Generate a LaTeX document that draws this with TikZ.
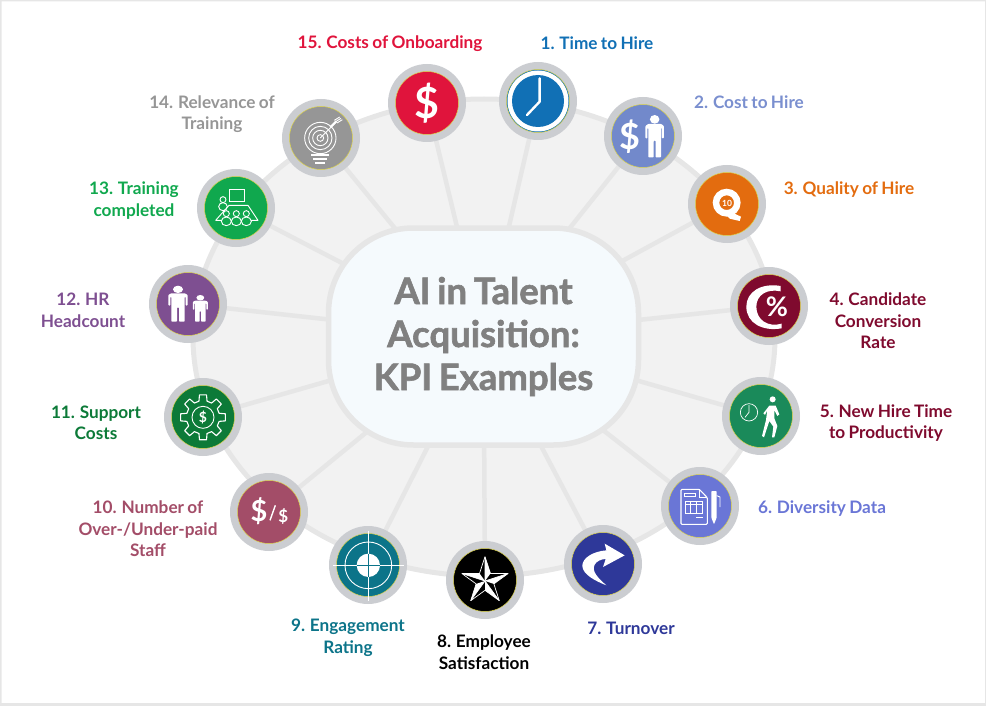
\documentclass[tikz,border=0pt]{standalone}
\usepackage{fontspec}
\setmainfont{Lato}[WordSpace=0.8]
\newfontfamily\titlefont{Lato}[WordSpace=0.75,BoldFeatures={FakeBold=1.6}]
\pgfdeclarelayer{bg}
\pgfsetlayers{bg,main}
\definecolor{framegray}{HTML}{E6E6E6}
\definecolor{diskfill}{HTML}{F2F2F2}
\definecolor{hubfill}{HTML}{F5FAFD}
\definecolor{ringgray}{HTML}{CBCDD1}
\definecolor{thinedge}{HTML}{DCD34A}
\definecolor{titlegray}{HTML}{808080}
\definecolor{cA}{HTML}{1170B5}
\definecolor{cB}{HTML}{7289CB}
\definecolor{cBt}{HTML}{7A8FCF}
\definecolor{cC}{HTML}{E36C0F}
\definecolor{cD}{HTML}{7F0A2E}
\definecolor{cE}{HTML}{1A8A5A}
\definecolor{cF}{HTML}{6A76D6}
\definecolor{cG}{HTML}{2E3899}
\definecolor{cH}{HTML}{000000}
\definecolor{cI}{HTML}{0C7489}
\definecolor{cJ}{HTML}{A34D68}
\definecolor{cK}{HTML}{0C7A38}
\definecolor{cL}{HTML}{7E4F91}
\definecolor{cM}{HTML}{10A84E}
\definecolor{cN}{HTML}{969696}
\definecolor{cO}{HTML}{E0143C}
\tikzset{
  kpiring/.style={circle,fill=ringgray,inner sep=0pt,minimum size=78pt},
  kpidisc/.style={circle,draw=thinedge,line width=.5pt,inner sep=0pt,minimum size=63pt},
  spoke/.style={draw=framegray,line width=4.5pt},
  kpilabel/.style={font=\bfseries\fontsize{17.2}{21.5}\selectfont,align=center,inner sep=0pt},
  glyph/.style={text=white,font=\bfseries,inner sep=0pt},
  thinw/.style={draw=white,line width=.9pt},
  zm/.style n args={3}{shift={(#1.center)},scale=0.33333,shift={(-#2,-#3)}}
}
\newcommand\kpi[4]{\node[kpiring] (#1) at (#2,#3) {};\node[kpidisc,fill=#4] (#1d) at (#1) {};}
\newcommand\kpiperson[4]{\begin{scope}[shift={(#1,#2)},xscale=#3,yscale=#4]
  \fill[white,rounded corners=.7pt] (-21,0) -- (21,0) -- (29,6) -- (29,43) -- (23,43) -- (23,12) -- (20,12) -- (20,100) -- (3,100) -- (3,50) -- (-3,50) -- (-3,100) -- (-20,100) -- (-20,12) -- (-23,12) -- (-23,43) -- (-29,43) -- (-29,6) -- cycle;
  \fill[white] (0,-14) ellipse [x radius=15,y radius=13];
\end{scope}}
\begin{document}
\begin{tikzpicture}[x=1pt,y=-1pt]
\useasboundingbox (0,0) rectangle (986,706);
\fill[framegray,even odd rule] (0,0) rectangle (986,706) (1.5,1.5) rectangle (985,703);
% hub and item nodes
\node[draw=framegray,fill=hubfill,line width=5.5pt,rounded corners=85pt,minimum width=310pt,minimum height=217pt,inner sep=0pt,
  font=\titlefont\bfseries\fontsize{36.5}{43}\selectfont,text=titlegray,align=center] (hub) at (483.5,336.5) {AI in Talent\\Acquisition:\\KPI Examples};
\kpi{nA}{538}{101}{cA}
\kpi{nB}{643}{136}{cB}
\kpi{nC}{727}{204}{cC}
\kpi{nD}{769}{306}{cD}
\kpi{nE}{761}{416}{cE}
\kpi{nF}{700}{506}{cF}
\kpi{nG}{603}{564}{cG}
\kpi{nH}{485}{580}{cH}
\kpi{nI}{368}{565}{cI}
\kpi{nJ}{269}{512}{cJ}
\kpi{nK}{203}{417}{cK}
\kpi{nL}{188}{304}{cL}
\kpi{nM}{236}{208}{cM}
\kpi{nN}{321}{138}{cN}
\kpi{nO}{427}{103}{cO}
\begin{pgfonlayer}{bg}
  \draw[framegray,fill=diskfill,line width=5pt] (484,337.5) ellipse [x radius=291,y radius=238.5];
  \foreach \n in {nA,nB,nC,nD,nE,nF,nG,nH,nI,nJ,nK,nL,nM,nN,nO}
    \draw[spoke] (hub.center) -- (\n.center);
\end{pgfonlayer}
% labels
\node[kpilabel,text=cO] (lO) at (390,43.5) {15. Costs of Onboarding};
\node[kpilabel,text=cA] (lA) at (597,43.5) {1. Time to Hire};
\node[kpilabel,text=cBt] (lB) at (749,102.5) {2. Cost to Hire};
\node[kpilabel,text=cC] (lC) at (849,189.5) {3. Quality of Hire};
\node[kpilabel,text=cD] (lD) at (878,321) {4. Candidate\\Conversion\\Rate};
\node[kpilabel,text=cD] (lE) at (886,423) {5. New Hire Time\\to Productivity};
\node[kpilabel,text=cF] (lF) at (822,508.5) {6. Diversity Data};
\node[kpilabel,text=cG] (lG) at (631,628.5) {7. Turnover};
\node[kpilabel,text=cH] (lH) at (484,652) {8. Employee\\Satisfaction};
\node[kpilabel,text=cI] (lI) at (348,638) {9. Engagement\\Rating};
\node[kpilabel,text=cJ] (lJ) at (148,529) {10. Number of\\Over-/Under-paid\\Staff};
\node[kpilabel,text=cK] (lK) at (96,423) {11. Support\\Costs};
\node[kpilabel,text=cL] (lL) at (83,310.5) {12. HR\\Headcount};
\node[kpilabel,text=cM] (lM) at (134,200.5) {13. Training\\completed};
\node[kpilabel,text=cN] (lN) at (212,114) {14. Relevance of\\Training};
% 15 dollar
\node[glyph,font=\bfseries\fontsize{43}{43}\selectfont] (gO) at (nO) {\$};
% 1 clock
\fill[white] (nA) circle (30.5);
\fill[cA] (nA) circle (26);
\begin{scope}[zm={nA}{475}{153}]
  \draw[white,line width=2.4pt,line cap=round,line join=round] (480,85) -- (480,155) -- (442,195);
\end{scope}
% 2 dollar and person
\begin{scope}[zm={nB}{790}{258}]
  \node[glyph,font=\bfseries\fontsize{36}{36}\selectfont] (gB) at (750,260) {\$};
  \kpiperson{825}{222}{0.95}{1}
\end{scope}
% 3 Q10
\begin{scope}[zm={nC}{142}{132}]
  \draw[white,line width=6.5pt] (141,128) circle (32);
  \fill[white] (132,158) -- (158,158) -- (184,170) -- (180,183) -- (150,176) -- cycle;
  \node[glyph,font=\bfseries\fontsize{8.5}{9}\selectfont] (gC) at (142,130) {10};
\end{scope}
% 4 C%
\begin{scope}[zm={nD}{268}{438}]
  \fill[white] (303,378) .. controls (245,368) and (200,395) .. (200,440) .. controls (200,490) and (250,515) .. (306,505) -- (306,491) .. controls (265,503) and (230,480) .. (230,440) .. controls (230,405) and (262,385) .. (303,394) -- cycle;
  \node[glyph,font=\bfseries\fontsize{27}{27}\selectfont] (gD) at (292,441) {\%};
\end{scope}
% 5 clock and walker
\begin{scope}[zm={nE}{243}{768}]
  \draw[white,line width=.7pt] (207,757) circle (26);
  \draw[white,line width=.7pt] (207,735) -- (207,757) -- (195,772);
  \fill[white] (278,718) circle (9);
  \fill[white] (268,737) -- (287,737) -- (298,763) -- (292,768) -- (283,750) -- (283,775) -- (292,798) -- (283,832) -- (276,832) -- (280,800) -- (268,783) -- (252,832) -- (246,828) -- (258,780) -- (262,750) -- (255,765) -- (250,760) -- cycle;
\end{scope}
% 6 document and pen
\begin{scope}[zm={nF}{1140}{137}]
  \draw[thinw,line width=1.1pt,rounded corners=1pt] (1083,87) -- (1138,87) -- (1162,112) -- (1162,192) -- (1083,192) -- cycle;
  \draw[thinw] (1138,87) -- (1138,112) -- (1162,112);
  \draw[thinw] (1092,100) rectangle (1127,108);
  \draw[thinw] (1095,122) rectangle (1147,160);
  \draw[thinw] (1095,133) -- (1147,133) (1112,122) -- (1112,160) (1130,122) -- (1130,160);
  \draw[thinw] (1128,172) -- (1150,172);
  \fill[white,rounded corners=.8pt] (1174,92) -- (1190,92) -- (1190,172) -- (1182,192) -- (1174,172) -- cycle;
  \draw[thinw] (1190,106) -- (1200,110) -- (1200,140);
\end{scope}
% 7 arrow
\begin{scope}[zm={nG}{850}{313}]
  \fill[white] (915,287) -- (855,252) -- (860,272) .. controls (820,275) and (788,295) .. (788,318) .. controls (788,345) and (830,365) .. (860,377) .. controls (835,355) and (815,335) .. (825,315) .. controls (830,305) and (845,298) .. (858,298) -- (850,322) -- cycle;
\end{scope}
% 8 star
\begin{scope}[zm={nH}{496}{360},shift={(496,363)}]
  \foreach \a in {-90,-18,54,126,198}{
    \fill[white] (0,0) -- (\a:73) -- ({\a+36}:28) -- cycle;
    \draw[white,line width=.7pt,line join=round] (\a:73) -- ({\a+36}:28) -- ({\a+72}:73) (0,0) -- (\a:73);
  }
\end{scope}
% 9 crosshair
\begin{scope}[zm={nI}{145}{315}]
  \draw[thinw] (146,316) circle (70);
  \fill[white] (146,316) circle (35);
  \draw[white,line width=.7pt] (41,316) -- (252,316) (146,212) -- (146,422);
  \draw[cI,line width=.6pt] (111,316) -- (181,316) (146,281) -- (146,351);
\end{scope}
% 10 dollar / dollar
\begin{scope}[zm={nJ}{388}{427}]
  \node[glyph,font=\bfseries\fontsize{29}{29}\selectfont] (gJa) at (358,424) {\$};
  \draw[white,line width=1.4pt] (407,407) -- (391,452);
  \node[glyph,font=\bfseries\fontsize{17}{17}\selectfont] (gJb) at (431,440) {\$};
\end{scope}
% 11 gear
\begin{scope}[zm={nK}{190}{141},shift={(190,142)}]
  \draw[thinw,line width=1.1pt,line join=round] (-14:50) \foreach \a in {0,45,...,315}{ -- ({\a-14}:50) -- ({\a-9}:68) -- ({\a+9}:68) -- ({\a+14}:50)} -- cycle;
  \draw[thinw] (0,0) circle (33);
  \node[glyph,font=\bfseries\fontsize{14}{14}\selectfont] (gK) at (0,0) {\$};
\end{scope}
% 12 two persons
\begin{scope}[zm={nL}{145}{132}]
  \kpiperson{115}{100}{1}{0.85}
  \kpiperson{182}{122}{0.78}{0.63}
\end{scope}
% 13 training room
\begin{scope}[zm={nM}{139}{355}]
  \draw[thinw] (118,298) rectangle (163,335);
  \draw[thinw] (100,330) circle (9);
  \draw[thinw] (100,351) ellipse [x radius=13,y radius=12];
  \draw[thinw,line join=round] (118,347) -- (175,347) -- (205,392) -- (78,392) -- cycle;
  \foreach \p in {110,140,170}{
    \draw[thinw,fill=cM] (\p,395) ellipse [x radius=15,y radius=13];
    \draw[thinw,fill=cM] (\p,372) circle (9);
  }
\end{scope}
% 14 target bulb
\begin{scope}[zm={nN}{394}{145}]
  \foreach \r in {47,35,23,10} \draw[thinw] (392,145) circle (\r);
  \draw[white,line width=1.4pt] (365,196) -- (418,196);
  \draw[white,line width=1.4pt] (370,208) -- (413,208);
  \draw[white,line width=1.4pt] (376,220) -- (407,220);
  \draw[thinw] (392,145) -- (440,97);
  \draw[white,line width=2.2pt] (422,113) -- (440,95);
  \draw[thinw] (434,92) -- (450,82) (438,96) -- (454,86) (442,100) -- (458,90);
\end{scope}
\end{tikzpicture}
\end{document}
